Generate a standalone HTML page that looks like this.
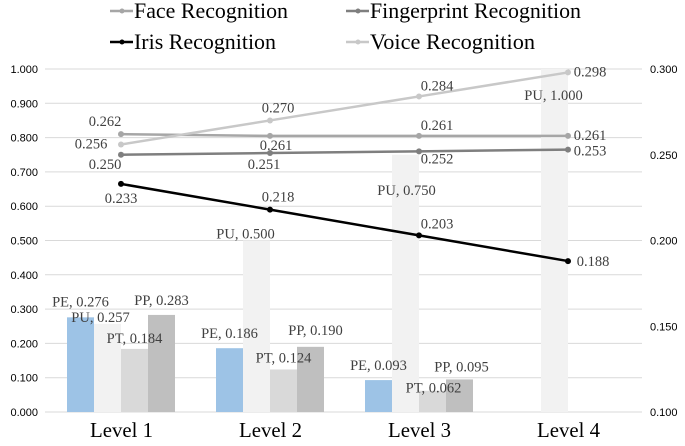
<!DOCTYPE html>
<html><head><meta charset="utf-8"><style>
body{margin:0;background:#fff;}
svg{display:block;}
</style></head><body>
<svg id="c" width="685" height="446"></svg>
<script>
const categories=["Level 1","Level 2","Level 3","Level 4"];
const barSeries=["PE","PU","PT","PP"];
const pe=[0.276,0.186,0.093,0];
const pu=[0.257,0.500,0.750,1.000];
const pt=[0.184,0.124,0.062,0];
const pp=[0.283,0.190,0.095,0];
const face=[0.262,0.261,0.261,0.261];
const fingerprint=[0.250,0.251,0.252,0.253];
const iris=[0.233,0.218,0.203,0.188];
const voice=[0.256,0.270,0.284,0.298];
const leftTicks=[0,0.1,0.2,0.3,0.4,0.5,0.6,0.7,0.8,0.9,1.0];
const rightTicks=[0.10,0.15,0.20,0.25,0.30];

const svg=document.getElementById('c');
const NS="http://www.w3.org/2000/svg";
const SERIF="'Liberation Serif', serif";
const SANS="'Liberation Sans', sans-serif";
function mk(tag,attrs,parent){const e=document.createElementNS(NS,tag);for(const k in attrs)e.setAttribute(k,attrs[k]);(parent||svg).appendChild(e);return e;}
const y0=412,y1=69;
const yL=v=>y0-(v)*(y0-y1);
const yR=v=>y0-(v-0.1)/0.2*(y0-y1);
const xC=i=>121+i*149;
const BW=27;

leftTicks.forEach(t=>{
  const l=mk('line',{x1:45,x2:642,y1:yL(t),y2:yL(t),stroke:'#d9d9d9','stroke-width':1});
  
  
  const tx=mk('text',{x:38,y:yL(t)+4,'text-anchor':'end','font-family':SANS,'font-size':11,fill:'#000'});
  tx.textContent=t.toFixed(3);
  
  
});
rightTicks.forEach(t=>{
  const tx=mk('text',{x:650,y:yR(t)+4,'font-family':SANS,'font-size':11,fill:'#000'});
  tx.textContent=t.toFixed(3);
  
  
});
categories.forEach((c,i)=>{
  const tx=mk('text',{x:xC(i)-31,y:437,'font-family':SERIF,'font-size':21,fill:'#000',textLength:63,lengthAdjust:'spacingAndGlyphs'});
  tx.textContent=c;
  
  
});
const barData=[pe,pu,pt,pp];
const barColors=['#9dc3e6','#f2f2f2','#d9d9d9','#bfbfbf'];
const barLabelOff=[[[0,-11],[-7,-2],[0,-6],[0,-10]],[[0,-10],[-11,-2],[0,-7],[5,-12]],[[0,-10],[1,40],[1,2],[2,-8]],[[0,0],[-1,31],[0,0],[0,0]]];
const labelQueue=[];
categories.forEach((c,i)=>{
  barData.forEach((arr,s)=>{
    const v=arr[i];
    const x=xC(i)-2*BW+s*BW;
    const r=mk('rect',{x:x,y:yL(v),width:BW,height:y0-yL(v),fill:barColors[s]});
    
    
    if(v>0) labelQueue.push([x+BW/2+barLabelOff[i][s][0],yL(v)+barLabelOff[i][s][1],barSeries[s]+', '+v.toFixed(3)]);
  });
});
const lines=[
 {d:fingerprint,c:'#7f7f7f',n:'fingerprint',off:[[-16,14],[-6,16],[18,12],[22,6]]},
 {d:face,c:'#a6a6a6',n:'face',off:[[-16,-8],[6,14],[18,-6],[22,4]]},
 {d:voice,c:'#c8c8c8',n:'voice',off:[[-30,4],[8,-8],[18,-6],[22,4]]},
 {d:iris,c:'#000',n:'iris',off:[[0,19],[8,-8],[18,-7],[25,5]]}
];
lines.forEach(L=>{
  const pts=L.d.map((v,i)=>xC(i)+','+yR(v)).join(' ');
  const p=mk('polyline',{points:pts,fill:'none',stroke:L.c,'stroke-width':2.5});
  
  
  L.d.forEach((v,i)=>{
    const c=mk('circle',{cx:xC(i),cy:yR(v),r:3,fill:L.c});
    
    
    const tx=mk('text',{x:xC(i)+L.off[i][0],y:yR(v)+L.off[i][1],'text-anchor':'middle','font-family':SERIF,'font-size':14.5,fill:'#404040'});
    tx.textContent=v.toFixed(3);
    
    
  });
});
labelQueue.forEach(q=>{
  const tx=mk('text',{x:q[0],y:q[1],'text-anchor':'middle','font-family':SERIF,'font-size':14.5,fill:'#404040'});
  tx.textContent=q[2];
  
  
});
const legend=[['Face Recognition','#a6a6a6',110,18,154],['Fingerprint Recognition','#7f7f7f',346,18,211],['Iris Recognition','#000',110,49,142],['Voice Recognition','#c8c8c8',346,49,165]];
legend.forEach(l=>{
  const g=mk('g',{});
  
  
  mk('line',{x1:l[2],x2:l[2]+23,y1:l[3]-7,y2:l[3]-7,stroke:l[1],'stroke-width':2.5},g);
  mk('circle',{cx:l[2]+12,cy:l[3]-7,r:2.5,fill:l[1]},g);
  const tx=mk('text',{x:l[2]+24,y:l[3],'font-family':SERIF,'font-size':22,fill:'#000',textLength:l[4],lengthAdjust:'spacingAndGlyphs'},g);
  tx.textContent=l[0];
});
</script>
</body></html>
